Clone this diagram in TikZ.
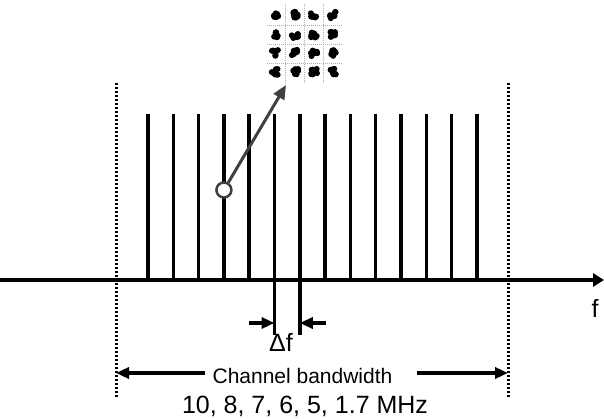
\documentclass[tikz,border=0pt]{standalone}
\usepackage{fontspec}
\setmainfont{Liberation Sans}
\usepackage{tikz}
\usetikzlibrary{arrows.meta, positioning, calc}
\definecolor{pointerGray}{RGB}{64, 64, 64}
\definecolor{gridGray}{RGB}{175, 175, 175}

\begin{document}
\begin{tikzpicture}[x=1pt, y=-1pt,
    spike/.style={line width=3.5pt},
    bound/.style={line width=3pt, dash pattern=on 2.4pt off 1.6pt},
    dim/.style={line width=3.5pt, -{Triangle[length=13pt, width=11pt]}},
    lbl/.style={font=\fontsize{25}{28}\selectfont, inner sep=0pt, anchor=base}]
      \useasboundingbox (0,0) rectangle (604,419);

      % Subcarriers
      \foreach \i in {0,...,13}
        \coordinate (s\i) at ({148+25.3*\i},114);
      \foreach \i in {0,...,13}
        \draw[spike] (s\i) -- ++(0,166);
      \draw[spike] (s5) -- ++(0,221);
      \draw[spike] (s6) -- ++(0,221);

      % Frequency axis
      \draw[line width=3.5pt, -{Triangle[length=11pt, width=13pt]}] (0,280) -- (604,280);
      \node[lbl] (f) at (595,317) {f};

      % Channel edges
      \draw[bound] (116,83) -- (116,397);
      \draw[bound] (508,83) -- (508,397);

      % Subcarrier spacing
      \coordinate (dfL) at (249,323);
      \coordinate (dfR) at (326,323);
      \draw[dim] (dfL) -- (s5 |- dfL);
      \draw[dim] (dfR) -- (s6 |- dfR);
      \node[lbl] (df) at (281,351) {Δf};

      % Bandwidth
      \node[font=\fontsize{21}{24}\selectfont, inner sep=0pt, anchor=base] (bw) at (302.5,383) {Channel bandwidth};
      \coordinate (bwLs) at (205,373);
      \coordinate (bwL) at (116,373);
      \coordinate (bwRs) at (417,373);
      \coordinate (bwR) at (508,373);
      \draw[dim] (bwLs) -- (bwL);
      \draw[dim] (bwRs) -- (bwR);
      \node[lbl] (rates) at (305,413) {10, 8, 7, 6, 5, 1.7 MHz};

      % Constellation
      \foreach \gx in {285,304,323}
        \draw[gridGray, line width=0.7pt, dash pattern=on 1pt off 1pt] (\gx,4) -- (\gx,83);
      \foreach \gy in {25,44,63}
        \draw[gridGray, line width=0.7pt, dash pattern=on 1pt off 1pt] (267,\gy) -- (342,\gy);
      \pgfmathsetseed{11}
      \foreach \cx in {275,295,314,333}
        \foreach \cy in {15,35,53,72}
          \foreach \k in {1,...,9}
            \fill ({\cx+3.2*rand},{\cy+3.2*rand}) circle (3);

      % Selected subcarrier
      \coordinate (qamTip) at (286,85);
      \node[circle, draw=pointerGray, fill=white, line width=2.5pt, minimum size=15pt, inner sep=0pt] (sel) at (s3 |- 0,190) {};
      \draw[pointerGray, line width=3pt, -{Triangle[length=14pt, width=12pt]}] (sel) -- (qamTip);
    \end{tikzpicture}
\end{document}
